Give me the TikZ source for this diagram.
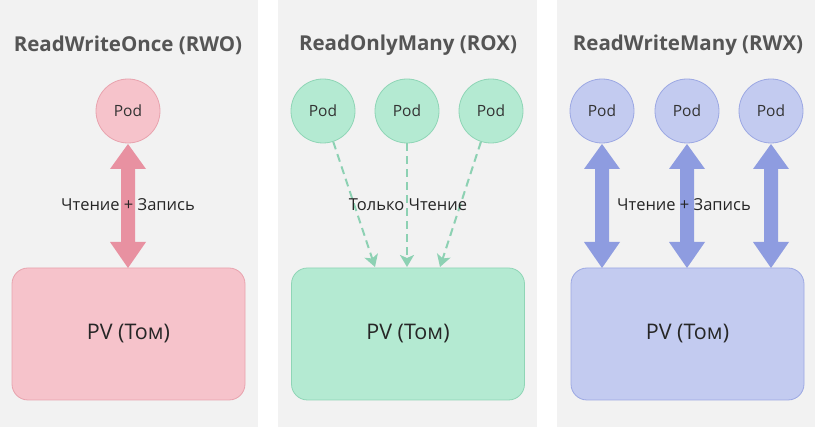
\documentclass[tikz,border=0pt]{standalone}
\usepackage{fontspec}
\setmainfont{Open Sans}
\usetikzlibrary{arrows.meta}
\definecolor{panel}{HTML}{F2F2F2}
\definecolor{title}{HTML}{555555}
\definecolor{pinkF}{HTML}{F6C3CB}\definecolor{pinkD}{HTML}{E8A3AE}\definecolor{pinkA}{HTML}{E891A1}
\definecolor{greenF}{HTML}{B4EAD2}\definecolor{greenD}{HTML}{8FD5B6}\definecolor{greenA}{HTML}{8DD1B3}
\definecolor{blueF}{HTML}{C3CBF0}\definecolor{blueD}{HTML}{9CA8E3}\definecolor{blueA}{HTML}{8E9CE0}
\tikzset{
 ttl/.style={font=\bfseries\fontsize{20.5}{24}\selectfont, text=title},
 pod/.style={circle, minimum size=64pt, inner sep=0pt, draw=#1D, fill=#1F, line width=0.8pt, font=\fontsize{15.5}{18}\selectfont, text=black!80},
 pv/.style={rectangle, rounded corners=16pt, minimum width=233pt, minimum height=132pt, draw=#1D, fill=#1F, line width=0.8pt, font=\fontsize{21.5}{25}\selectfont, text=black!85},
 lbl/.style={font=\fontsize{16.5}{19}\selectfont, text=black!85},
 roline/.style={draw=greenA, line width=2pt, dash pattern=on 8pt off 5pt, -{Stealth[length=12pt,width=14pt,inset=3pt]}},
}
\begin{document}
\begin{tikzpicture}[x=1pt,y=-1pt]
\useasboundingbox (0,0) rectangle (815,427);
\fill[white] (0,0) rectangle (815,427);
\fill[panel] (0,0) rectangle (258,427);
\fill[panel] (278,0) rectangle (537,427);
\fill[panel] (557,0) rectangle (815,427);
\node[ttl] (t1) at (128,45) {ReadWriteOnce (RWO)};
\node[ttl] (t2) at (408,45) {ReadOnlyMany (ROX)};
\node[ttl] (t3) at (688,45) {ReadWriteMany (RWX)};
% panel 1
\node[pod=pink] (p1) at (128,111) {Pod};
\node[pv=pink] (v1) at (128.5,334) {PV (Том)};
\foreach \x/\c in {128/pinkA, 602/blueA, 687/blueA, 771/blueA}{
 \fill[\c] (\x,144) -- (\x+18,169) -- (\x+7,169) -- (\x+7,242) -- (\x+18,242) -- (\x,268) -- (\x-18,242) -- (\x-7,242) -- (\x-7,169) -- (\x-18,169) -- cycle;}
\node[lbl] (l1) at (128,205) {Чтение + Запись};
% panel 2
\node[pod=green] (q1) at (323,111) {Pod};
\node[pod=green] (q2) at (407,111) {Pod};
\node[pod=green] (q3) at (491,111) {Pod};
\node[pv=green] (v2) at (408,334) {PV (Том)};
\coordinate (e1) at (375,267);\coordinate (e2) at (407,267);\coordinate (e3) at (440,267);
\draw[roline] (q1) -- (e1);
\draw[roline] (q2) -- (e2);
\draw[roline] (q3) -- (e3);
\node[lbl] (l2) at (408,205) {Только Чтение};
% panel 3
\node[pod=blue] (r1) at (602,111) {Pod};
\node[pod=blue] (r2) at (687,111) {Pod};
\node[pod=blue] (r3) at (771,111) {Pod};
\node[pv=blue] (v3) at (687.5,334) {PV (Том)};
\node[lbl] (l3) at (684,205) {Чтение + Запись};
\end{tikzpicture}
\end{document}
